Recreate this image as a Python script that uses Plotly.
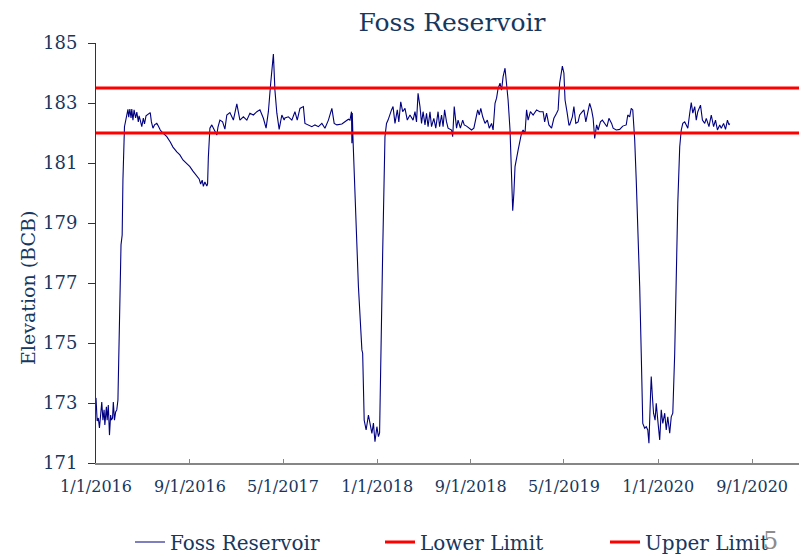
import plotly.graph_objects as go

dates = [
    "2016-01-01", "2016-01-04", "2016-01-07", "2016-01-10", "2016-01-13", "2016-01-16", "2016-01-19",
    "2016-01-22", "2016-01-24", "2016-01-28", "2016-01-30", "2016-02-02", "2016-02-05", "2016-02-08",
    "2016-02-10", "2016-02-13", "2016-02-15", "2016-02-18", "2016-02-21", "2016-02-24", "2016-02-27",
    "2016-03-01", "2016-03-04", "2016-03-06", "2016-03-09", "2016-03-11", "2016-03-15", "2016-03-18",
    "2016-03-21", "2016-03-24", "2016-03-26", "2016-03-29", "2016-04-01", "2016-04-03", "2016-04-06",
    "2016-04-09", "2016-04-13", "2016-04-16", "2016-04-20", "2016-04-22", "2016-04-25", "2016-04-29",
    "2016-05-03", "2016-05-06", "2016-05-10", "2016-05-15", "2016-05-21", "2016-05-24", "2016-05-28",
    "2016-06-01", "2016-06-07", "2016-06-11", "2016-06-16", "2016-06-23", "2016-07-03", "2016-07-12",
    "2016-07-19", "2016-07-29", "2016-08-06", "2016-08-14", "2016-08-24", "2016-09-01", "2016-09-09",
    "2016-09-19", "2016-09-25", "2016-09-29", "2016-10-03", "2016-10-06", "2016-10-10", "2016-10-15",
    "2016-10-17", "2016-10-19", "2016-10-22", "2016-10-23", "2016-10-28", "2016-11-03", "2016-11-10",
    "2016-11-13", "2016-11-18", "2016-11-25", "2016-12-01", "2016-12-06", "2016-12-14", "2016-12-23",
    "2017-01-01", "2017-01-09", "2017-01-18", "2017-01-27", "2017-02-04", "2017-02-13", "2017-02-22",
    "2017-03-02", "2017-03-11", "2017-03-18", "2017-03-24", "2017-03-30", "2017-04-02", "2017-04-06",
    "2017-04-10", "2017-04-15", "2017-04-21", "2017-04-28", "2017-05-04", "2017-05-06", "2017-05-15",
    "2017-05-24", "2017-06-01", "2017-06-07", "2017-06-14", "2017-06-23", "2017-06-27", "2017-07-06",
    "2017-07-15", "2017-07-23", "2017-08-01", "2017-08-10", "2017-08-18", "2017-08-27", "2017-09-05",
    "2017-09-11", "2017-09-18", "2017-10-01", "2017-10-09", "2017-10-18", "2017-10-22", "2017-10-26",
    "2017-10-27", "2017-10-28", "2017-10-30", "2017-11-04", "2017-11-13", "2017-11-22", "2017-11-24",
    "2017-11-28", "2017-12-03", "2017-12-09", "2017-12-13", "2017-12-18", "2017-12-22", "2017-12-26",
    "2017-12-31", "2018-01-04", "2018-01-07", "2018-01-10", "2018-01-15", "2018-01-21", "2018-01-25",
    "2018-01-29", "2018-02-03", "2018-02-07", "2018-02-11", "2018-02-16", "2018-02-22", "2018-02-26",
    "2018-03-03", "2018-03-08", "2018-03-14", "2018-03-20", "2018-03-27", "2018-04-04", "2018-04-09",
    "2018-04-13", "2018-04-17", "2018-04-22", "2018-04-26", "2018-04-30", "2018-05-05", "2018-05-09",
    "2018-05-13", "2018-05-18", "2018-05-22", "2018-05-28", "2018-06-02", "2018-06-08", "2018-06-12",
    "2018-06-17", "2018-06-21", "2018-06-25", "2018-06-30", "2018-07-04", "2018-07-13", "2018-07-16",
    "2018-07-20", "2018-07-26", "2018-07-30", "2018-08-05", "2018-08-11", "2018-08-15", "2018-08-21",
    "2018-08-28", "2018-09-03", "2018-09-09", "2018-09-14", "2018-09-19", "2018-09-23", "2018-09-27",
    "2018-10-02", "2018-10-08", "2018-10-14", "2018-10-19", "2018-10-25", "2018-10-29", "2018-11-03",
    "2018-11-07", "2018-11-11", "2018-11-16", "2018-11-20", "2018-11-24", "2018-11-29", "2018-12-03",
    "2018-12-07", "2018-12-12", "2018-12-16", "2018-12-19", "2018-12-22", "2018-12-25", "2019-01-02",
    "2019-01-11", "2019-01-15", "2019-01-20", "2019-01-24", "2019-01-28", "2019-02-03", "2019-02-10",
    "2019-02-19", "2019-02-27", "2019-03-08", "2019-03-12", "2019-03-17", "2019-03-23", "2019-03-30",
    "2019-04-05", "2019-04-12", "2019-04-16", "2019-04-20", "2019-04-27", "2019-05-01", "2019-05-04",
    "2019-05-09", "2019-05-14", "2019-05-16", "2019-05-23", "2019-05-27", "2019-06-01", "2019-06-07",
    "2019-06-11", "2019-06-18", "2019-06-22", "2019-06-27", "2019-07-03", "2019-07-07", "2019-07-12",
    "2019-07-16", "2019-07-20", "2019-07-25", "2019-07-29", "2019-08-04", "2019-08-09", "2019-08-15",
    "2019-08-21", "2019-08-26", "2019-09-02", "2019-09-06", "2019-09-14", "2019-09-23", "2019-10-01",
    "2019-10-10", "2019-10-14", "2019-10-19", "2019-10-23", "2019-10-27", "2019-11-01", "2019-11-05",
    "2019-11-09", "2019-11-14", "2019-11-18", "2019-11-22", "2019-11-27", "2019-12-01", "2019-12-05",
    "2019-12-08", "2019-12-12", "2019-12-14", "2019-12-17", "2019-12-20", "2019-12-24", "2019-12-27",
    "2019-12-31", "2020-01-05", "2020-01-09", "2020-01-13", "2020-01-18", "2020-01-22", "2020-01-26",
    "2020-01-31", "2020-02-04", "2020-02-08", "2020-02-13", "2020-02-17", "2020-02-21", "2020-02-26",
    "2020-03-01", "2020-03-05", "2020-03-10", "2020-03-14", "2020-03-18", "2020-03-23", "2020-03-27",
    "2020-03-31", "2020-04-05", "2020-04-09", "2020-04-13", "2020-04-20", "2020-04-25", "2020-05-01",
    "2020-05-05", "2020-05-12", "2020-05-18", "2020-05-24", "2020-05-29", "2020-06-03", "2020-06-09",
    "2020-06-13", "2020-06-19", "2020-06-24", "2020-06-29", "2020-07-03", "2020-07-05",
]

elevation = [
    173.17, 172.40, 172.50, 172.17, 172.60, 173.03, 172.43,
    172.77, 172.27, 172.87, 172.43, 172.93, 171.93, 172.60,
    172.43, 172.50, 173.03, 172.43, 172.70, 172.77, 173.10,
    175.10, 177.77, 178.27, 178.60, 180.43, 182.21, 182.43,
    182.60, 182.79, 182.53, 182.80, 182.50, 182.80, 182.43,
    182.77, 182.50, 182.70, 182.37, 182.57, 182.43, 182.21,
    182.50, 182.30, 182.57, 182.63, 182.68, 182.37, 182.16,
    182.27, 182.32, 182.23, 182.10, 182.00, 181.88, 181.70,
    181.53, 181.37, 181.27, 181.10, 180.97, 180.88, 180.73,
    180.54, 180.47, 180.30, 180.43, 180.22, 180.37, 180.23,
    180.30, 181.20, 181.77, 182.16, 182.27, 182.10, 181.93,
    182.20, 182.43, 182.37, 182.13, 182.60, 182.68, 182.43,
    182.97, 182.43, 182.54, 182.43, 182.66, 182.60, 182.71,
    182.77, 182.49, 182.16, 182.71, 183.66, 184.10, 184.63,
    183.43, 182.66, 182.12, 182.60, 182.43, 182.50, 182.54,
    182.43, 182.71, 182.43, 182.82, 182.88, 182.32, 182.27,
    182.21, 182.27, 182.21, 182.32, 182.16, 182.43, 182.82,
    182.32, 182.27, 182.30, 182.37, 182.46, 182.43, 182.71,
    181.66, 182.67, 181.77, 180.21, 176.88, 174.77, 174.66,
    172.43, 172.10, 172.60, 172.27, 171.99, 172.33, 171.71,
    172.21, 171.88, 172.00, 174.66, 178.00, 181.88, 182.32,
    182.43, 182.66, 182.77, 182.88, 182.32, 182.77, 182.37,
    183.04, 182.71, 182.82, 182.43, 182.60, 182.43, 182.71,
    182.37, 183.32, 182.88, 182.32, 182.71, 182.27, 182.66,
    182.21, 182.71, 182.21, 182.49, 182.16, 182.71, 182.21,
    182.60, 182.21, 182.77, 182.37, 182.16, 182.10, 181.88,
    182.88, 182.16, 182.43, 182.16, 182.43, 182.27, 182.23,
    182.16, 182.10, 182.16, 182.43, 182.77, 182.60, 182.82,
    182.54, 182.32, 182.43, 182.16, 182.32, 182.10, 182.99,
    183.16, 183.49, 183.66, 183.43, 183.88, 184.16, 183.66,
    183.10, 182.10, 180.66, 179.41, 179.99, 180.88, 181.43,
    182.00, 182.10, 182.00, 182.77, 182.43, 182.71, 182.60,
    182.77, 182.71, 182.71, 182.37, 182.66, 182.27, 182.16,
    182.49, 182.66, 182.77, 183.66, 184.23, 184.00, 183.10,
    182.71, 182.27, 182.27, 182.54, 182.88, 182.32, 182.37,
    182.60, 182.71, 182.77, 182.37, 182.71, 182.99, 182.77,
    182.49, 181.82, 182.27, 182.10, 182.37, 182.43, 182.32,
    182.21, 182.49, 182.32, 182.16, 182.10, 182.12, 182.23,
    182.27, 182.60, 182.54, 182.82, 182.77, 181.77, 180.43,
    179.10, 176.88, 174.66, 172.32, 172.16, 172.21, 172.10,
    171.66, 173.21, 173.88, 173.21, 172.66, 172.43, 172.99,
    172.43, 171.77, 172.77, 172.32, 172.66, 172.10, 172.54,
    171.99, 172.54, 172.66, 174.66, 177.43, 179.66, 181.54,
    182.10, 182.32, 182.37, 182.27, 182.16, 182.66, 183.01,
    182.66, 182.88, 182.43, 182.71, 182.93, 182.43, 182.32,
    182.49, 182.21, 182.60, 182.21, 182.43, 182.10, 182.27,
    182.16, 182.32, 182.12, 182.43, 182.27, 182.32,
]

limit_dates = ["2016-01-01", "2021-01-01"]
lower_limit = [182.0, 182.0]
upper_limit = [183.5, 183.5]

tick_dates = ["2016-01-01", "2016-09-01", "2017-05-01", "2018-01-01",
              "2018-09-01", "2019-05-01", "2020-01-01", "2020-09-01"]
tick_text = ["1/1/2016", "9/1/2016", "5/1/2017", "1/1/2018",
             "9/1/2018", "5/1/2019", "1/1/2020", "9/1/2020"]
y_ticks = [171, 173, 175, 177, 179, 181, 183, 185]

TEXT = "#17375E"
FONT = "DejaVu Serif"

W, H = 808, 557
L, R, T, B = 96, 9, 43, 94
pw, ph = W - L - R, H - T - B


def px_x(v):
    return (v - L) / pw


def px_y(v):
    return (H - B - v) / ph


fig = go.Figure()
fig.add_trace(go.Scatter(x=dates, y=elevation, mode="lines", name="Foss Reservoir",
                         line=dict(color="#000080", width=1.1), legend="legend"))
fig.add_trace(go.Scatter(x=limit_dates, y=lower_limit, mode="lines", name="Lower Limit",
                         line=dict(color="#FF0000", width=3), legend="legend2"))
fig.add_trace(go.Scatter(x=limit_dates, y=upper_limit, mode="lines", name="Upper Limit",
                         line=dict(color="#FF0000", width=3), legend="legend3"))

leg_common = dict(orientation="h", xanchor="left", yanchor="middle", y=px_y(542),
                  font=dict(family=FONT, size=20, color=TEXT), bgcolor="rgba(0,0,0,0)")

fig.update_layout(
    width=W, height=H,
    margin=dict(l=L, r=R, t=T, b=B, autoexpand=False),
    paper_bgcolor="white", plot_bgcolor="white",
    font=dict(family=FONT, color=TEXT, size=16),
    title=dict(text="Foss Reservoir", x=px_x(452), xref="paper", xanchor="center",
               y=1 - 22 / H, yref="container", yanchor="middle",
               font=dict(family=FONT, size=25, color=TEXT)),
    showlegend=True,
    legend=dict(x=px_x(130), **leg_common),
    legend2=dict(x=px_x(380), **leg_common),
    legend3=dict(x=px_x(605), **leg_common),
    xaxis=dict(type="date", range=["2016-01-01", "2021-01-01"],
               tickvals=tick_dates, ticktext=tick_text,
               ticks="inside", ticklen=4, tickcolor="#868686", tickwidth=1,
               showline=True, linecolor="#868686", linewidth=1.5,
               showgrid=False, zeroline=False, ticklabelstandoff=8, automargin=False,
               tickfont=dict(family=FONT, size=16, color=TEXT)),
    yaxis=dict(range=[171, 185], tickvals=y_ticks,
               ticks="outside", ticklen=7, tickcolor="#333333", tickwidth=1,
               showline=True, linecolor="#333333", linewidth=1,
               showgrid=False, zeroline=False, ticklabelstandoff=7, automargin=False,
               tickfont=dict(family=FONT, size=18, color=TEXT)),
    annotations=[
        dict(text="Elevation (BCB)", textangle=-90, x=px_x(28), y=px_y(288),
             xref="paper", yref="paper", xanchor="center", yanchor="middle",
             showarrow=False, font=dict(family=FONT, size=19, color=TEXT)),
        dict(text="5", x=px_x(770), y=px_y(541), xref="paper", yref="paper",
             xanchor="center", yanchor="middle",
             showarrow=False, font=dict(family=FONT, size=24, color="#8C8C8C")),
    ],
)

fig.write_html("out.html", config={"displayModeBar": False},
               post_script="document.body.style.margin='0px';document.body.style.overflow='hidden';")
